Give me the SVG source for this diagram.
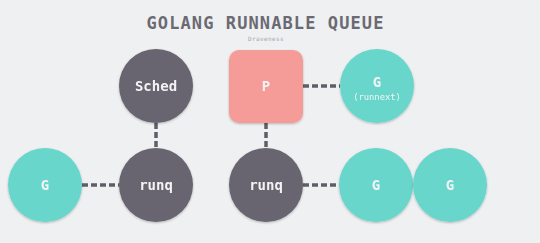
<svg xmlns="http://www.w3.org/2000/svg" width="540" height="243" viewBox="0 0 540 243">
  <style>
    .title { font-family: "DejaVu Sans Mono", "Liberation Mono", monospace; font-weight: bold; font-size: 17px; fill: #6b6a72; letter-spacing: 1.1px; }
    .author { font-family: "DejaVu Sans Mono", "Liberation Mono", monospace; font-size: 6px; fill: #a3a4aa; letter-spacing: 0.4px; }
    .label { font-family: "DejaVu Sans Mono", "Liberation Mono", monospace; font-weight: bold; font-size: 14px; fill: #f3f3f5; text-anchor: middle; dominant-baseline: central; }
    .sub { font-family: "DejaVu Sans Mono", "Liberation Mono", monospace; font-size: 8.8px; fill: #f3f3f5; text-anchor: middle; dominant-baseline: central; }
    .dark { fill: #67656f; }
    .pink { fill: #f59c98; }
    .teal { fill: #69d6cc; }
    .link { stroke: #5f5d68; stroke-width: 3.5; stroke-dasharray: 6 3; fill: none; }
  </style>
  <defs>
    <filter id="shadow" x="-20%" y="-20%" width="140%" height="140%">
      <feDropShadow dx="0" dy="1" stdDeviation="1" flood-color="#000" flood-opacity="0.25"/>
    </filter>
  </defs>
  <rect width="540" height="243" fill="#eff0f2"/>

  <text class="title" x="265.5" y="29" text-anchor="middle">GOLANG RUNNABLE QUEUE</text>
  <text class="author" x="266" y="41" text-anchor="middle">Draveness</text>

  <!-- dashed links between nodes -->
  <g id="connectors">
    <line class="link" x1="156" y1="123" x2="156" y2="148"/>
    <line class="link" x1="266" y1="123" x2="266" y2="148"/>
    <line class="link" x1="303" y1="86" x2="340" y2="86"/>
    <line class="link" x1="82" y1="185" x2="119" y2="185"/>
    <line class="link" x1="303" y1="185" x2="339" y2="185"/>
  </g>

  <g id="sched" filter="url(#shadow)">
    <circle class="dark" cx="156" cy="86" r="37"/>
    <text class="label" x="156" y="86">Sched</text>
  </g>

  <g id="p" filter="url(#shadow)">
    <rect class="pink" x="229" y="50" width="74" height="73" rx="10"/>
    <text class="label" x="266" y="86">P</text>
  </g>

  <g id="g-runnext" filter="url(#shadow)">
    <circle class="teal" cx="377" cy="86" r="37"/>
    <text class="label" x="377" y="82">G</text>
    <text class="sub" x="377" y="97">(runnext)</text>
  </g>

  <g id="g-global" filter="url(#shadow)">
    <circle class="teal" cx="45" cy="185" r="37"/>
    <text class="label" x="45" y="185">G</text>
  </g>

  <g id="runq-global" filter="url(#shadow)">
    <circle class="dark" cx="156" cy="185" r="37"/>
    <text class="label" x="156" y="185">runq</text>
  </g>

  <g id="runq-local" filter="url(#shadow)">
    <circle class="dark" cx="266" cy="185" r="37"/>
    <text class="label" x="266" y="185">runq</text>
  </g>

  <g id="g-local-1" filter="url(#shadow)">
    <circle class="teal" cx="376" cy="185" r="37"/>
    <text class="label" x="376" y="185">G</text>
  </g>

  <g id="g-local-2" filter="url(#shadow)">
    <circle class="teal" cx="450" cy="185" r="37"/>
    <text class="label" x="450" y="185">G</text>
  </g>
</svg>
